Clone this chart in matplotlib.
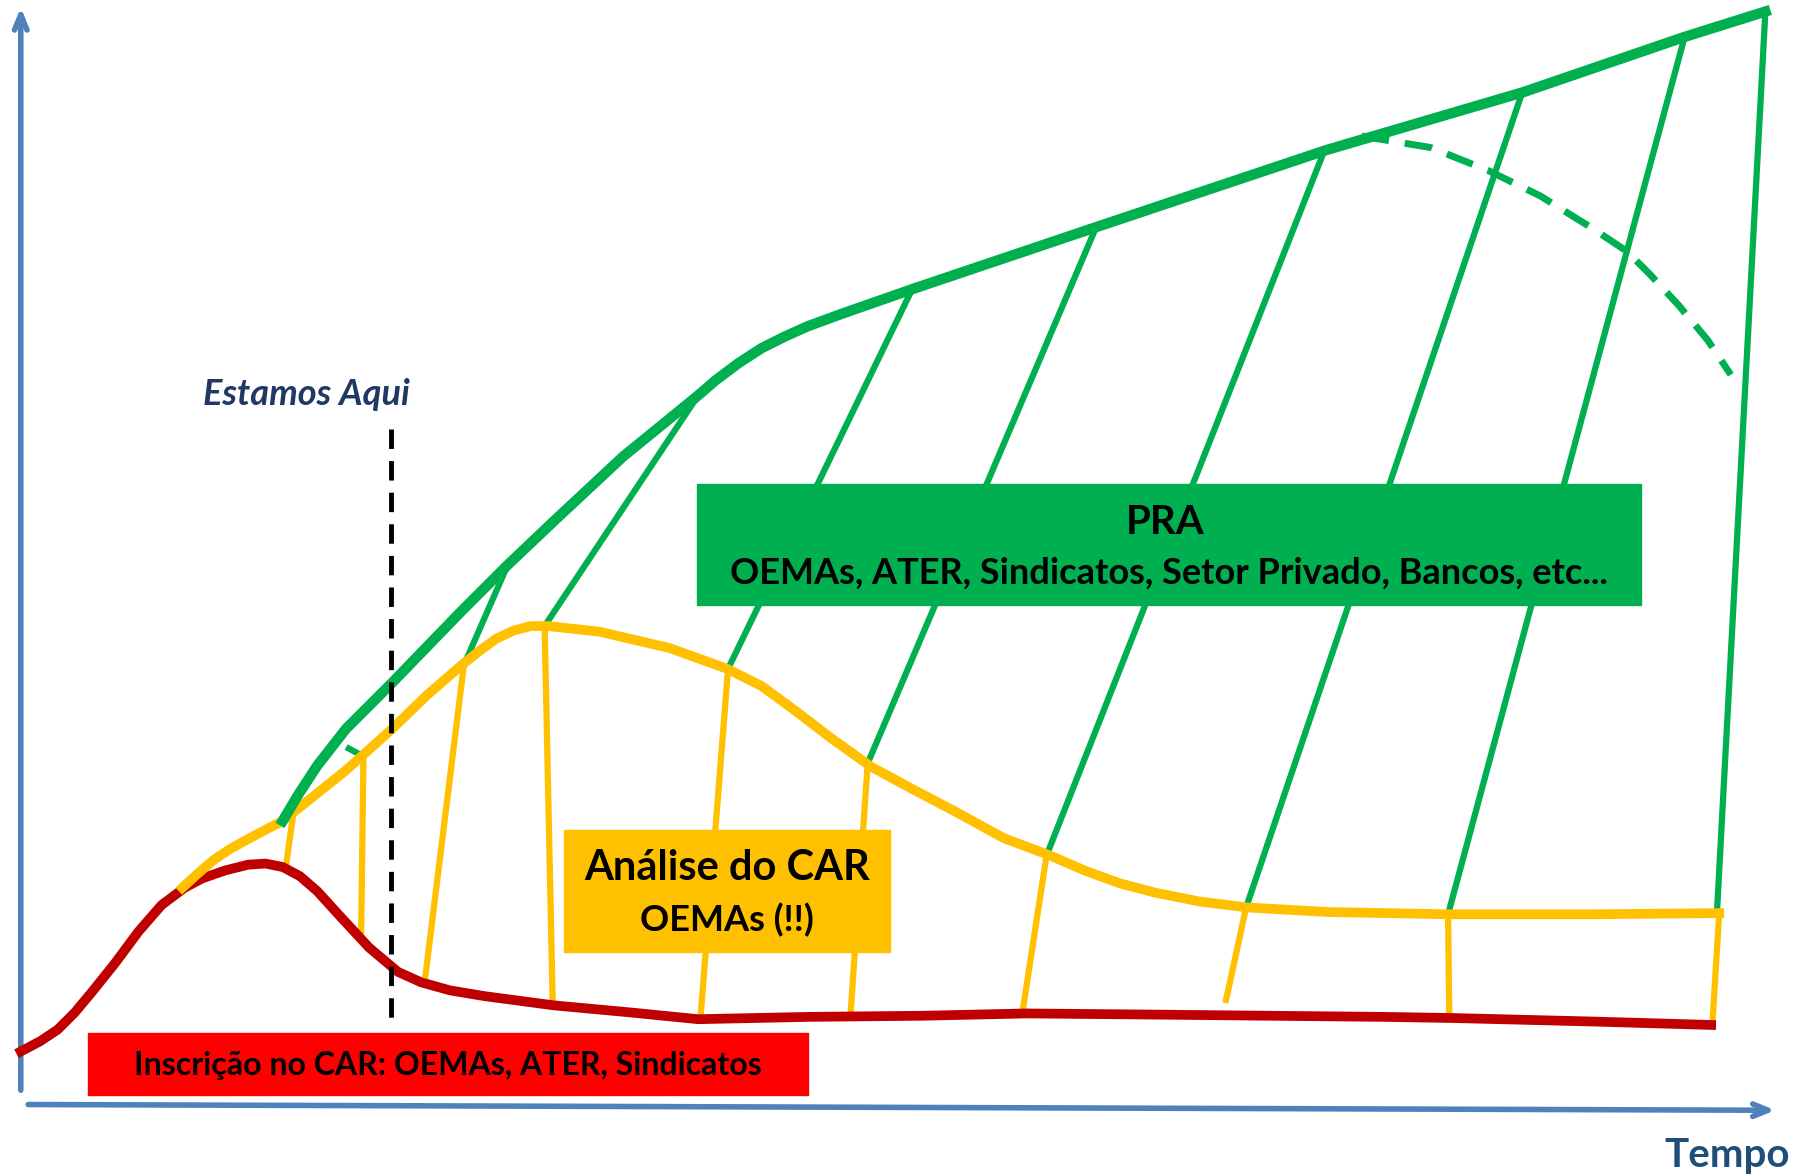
import numpy as np
import matplotlib
matplotlib.use("Agg")
import matplotlib.pyplot as plt
from matplotlib.patches import Rectangle

plt.rcParams['font.family'] = ['Lato', 'DejaVu Sans']

# diagram drawn in a 1560 x 1020 canvas space (y down)
W, H = 1560, 1020

GREEN = "#00B050"
YELLOW = "#FFC000"
RED_LINE = "#C00000"
RED_BOX = "#FF0000"
AXIS_BLUE = "#4F81BD"
NAVY = "#1F3864"

# red curve: inscricao no CAR
red_x = [18, 35, 50, 65, 80, 100, 120, 140, 160, 175, 195, 215, 230, 245, 260, 275, 295, 320, 345,
         365, 390, 420, 480, 545, 605, 700, 800, 890, 1000, 1100, 1200, 1260, 1380, 1483]
red_y = [912, 903, 893, 878, 860, 835, 808, 785, 770, 762, 755, 750, 749, 752, 760, 773, 795, 822, 843,
         852, 859, 864, 872, 878, 884, 882, 881, 879, 880, 881, 882, 883, 886, 889]

# yellow curve: analise do CAR
yel_x = [158, 170, 185, 200, 220, 245, 270, 300, 340, 370, 400, 415, 430, 445, 460, 475, 520, 580,
         630, 660, 690, 720, 755, 790, 830, 870, 910, 940, 970, 1000, 1040, 1080, 1150, 1255, 1380, 1490]
yel_y = [770, 759, 746, 736, 725, 712, 692, 668, 632, 603, 577, 565, 554, 547, 543, 543, 548, 562,
         580, 595, 617, 640, 665, 684, 705, 727, 742, 755, 766, 774, 782, 787, 791, 793, 793, 792]

# green upper curve: PRA
grn_x = [245, 258, 275, 300, 340, 400, 440, 480, 540, 605, 620, 640, 660, 680, 700, 730, 790, 950,
         1150, 1320, 1460, 1530]
grn_y = [712, 690, 664, 632, 592, 530, 490, 452, 396, 343, 330, 315, 302, 292, 283, 272, 251, 197,
         130, 80, 32, 10]

# green dashed curve (after the peak)
dash_x = [1180, 1240, 1290, 1335, 1380, 1410, 1430, 1455, 1480, 1500]
dash_y = [118, 128, 148, 170, 198, 218, 238, 265, 295, 325]

# green hatch lines: (x top, y top, x bottom, y bottom)
green_links = [
    (300, 648, 315, 656),
    (440, 490, 402, 577),
    (605, 343, 472, 543),
    (790, 252, 631, 580),
    (950, 197, 752, 662),
    (1148, 130, 907, 742),
    (1320, 78, 1080, 787),
    (1460, 32, 1255, 793),
    (1530, 10, 1488, 792),
]

# yellow hatch lines
yellow_links = [
    (255, 700, 248, 750),
    (315, 655, 313, 810),
    (402, 577, 368, 852),
    (472, 543, 479, 870),
    (631, 580, 607, 884),
    (752, 662, 737, 882),
    (907, 742, 886, 879),
    (1080, 787, 1062, 870),
    (1255, 793, 1256, 880),
    (1490, 792, 1484, 889),
]

fig = plt.figure(figsize=(18, 11.76), dpi=100)
ax = fig.add_axes([0, 0, 1, 1])
ax.set_xlim(0, W)
ax.set_ylim(H, 0)
ax.axis("off")

# axes arrows
arrow = dict(arrowstyle="->,head_length=1.1,head_width=0.45", color=AXIS_BLUE, lw=4)
ax.annotate("", xy=(18, 4), xytext=(18, 948), arrowprops=arrow)
ax.annotate("", xy=(1541, 963), xytext=(22, 958), arrowprops=arrow)

# hatch lines
for x0, y0, x1, y1 in yellow_links:
    ax.plot([x0, x1], [y0, y1], color=YELLOW, lw=4.5, solid_capstyle="butt", zorder=2)
for x0, y0, x1, y1 in green_links:
    ax.plot([x0, x1], [y0, y1], color=GREEN, lw=4.5, solid_capstyle="butt", zorder=2)

# main curves
ax.plot(red_x, red_y, color=RED_LINE, lw=7, solid_joinstyle="round", zorder=3)
ax.plot(yel_x, yel_y, color=YELLOW, lw=7, solid_joinstyle="round", zorder=3)
ax.plot(grn_x, grn_y, color=GREEN, lw=7.5, solid_joinstyle="round", zorder=4)
ax.plot(dash_x, dash_y, color=GREEN, lw=5, dashes=(4, 2.3), zorder=3)

# "Estamos Aqui" marker
ax.plot([339, 339], [372, 885], color="black", lw=3.5, dashes=(4, 2.5), zorder=5)
ax.text(266, 342, "Estamos Aqui", color=NAVY, fontsize=26, fontweight="bold",
        fontstyle="italic", ha="center", va="center", zorder=6)

# label boxes
ax.add_patch(Rectangle((604, 420), 818, 105, color=GREEN, zorder=6))
ax.text(1010, 453, "PRA", fontsize=29, fontweight="bold", ha="center", va="center", zorder=7)
ax.text(1013, 497, "OEMAs, ATER, Sindicatos, Setor Privado, Bancos, etc...", fontsize=26,
        fontweight="bold", ha="center", va="center", zorder=7)

ax.add_patch(Rectangle((489, 720), 282, 106, color=YELLOW, zorder=6))
ax.text(630, 753, "Análise do CAR", fontsize=30, fontweight="bold", ha="center", va="center", zorder=7)
ax.text(630, 798, "OEMAs (!!)", fontsize=26, fontweight="bold", ha="center", va="center", zorder=7)

ax.add_patch(Rectangle((76, 896), 624, 54, color=RED_BOX, zorder=6))
ax.text(388, 924, "Inscrição no CAR: OEMAs, ATER, Sindicatos", fontsize=23, fontweight="bold",
        ha="center", va="center", zorder=7)

ax.text(1497, 1002, "Tempo", color="#1F4E79", fontsize=29, fontweight="bold",
        ha="center", va="center")

fig.savefig("out.png", dpi=100)
